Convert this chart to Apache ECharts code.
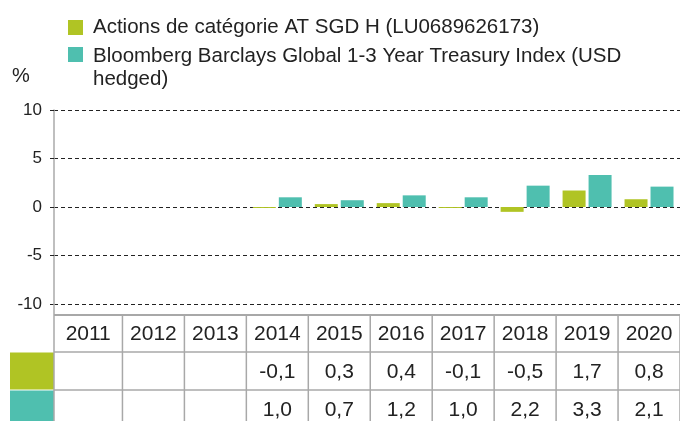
<!DOCTYPE html>
<html>
<head>
<meta charset="utf-8">
<script src="https://cdn.jsdelivr.net/npm/echarts@6/dist/echarts.min.js"></script>
<style>
html,body{margin:0;padding:0;background:#fff;}
#chart{width:680px;height:421px;}
</style>
</head>
<body>
<div id="chart"></div>
<script>
const years = ['2011','2012','2013','2014','2015','2016','2017','2018','2019','2020'];
const fundName = 'Actions de catégorie AT SGD H (LU0689626173)';
const indexName = 'Bloomberg Barclays Global 1-3 Year Treasury Index (USD hedged)';
const fundValues = [null, null, null, -0.1, 0.3, 0.4, -0.1, -0.5, 1.7, 0.8];
const indexValues = [null, null, null, 1.0, 0.7, 1.2, 1.0, 2.2, 3.3, 2.1];
const yMin = -10, yMax = 10, yStep = 5;
const unitLabel = '%';

const GREEN = '#B0C424';
const TEAL = '#4FBFAF';
const FONT = 'Liberation Sans';
const TXT = '#222';
const BORDER = '#a8a8a8';
const TABLE_ROWS_VISIBLE = 107 / 38;

function fmt(v) {
  return (v === null || v === undefined) ? '' : v.toFixed(1).replace('.', ',');
}

const chart = echarts.init(document.getElementById('chart'), null, {renderer: 'canvas'});

const option = {
  animation: false,
  backgroundColor: '#fff',
  textStyle: {fontFamily: FONT},
  legend: [
    {
      data: [fundName],
      left: 68, top: 16, padding: 0,
      icon: 'rect', itemWidth: 15, itemHeight: 15,
      selectedMode: false,
      textStyle: {fontFamily: FONT, fontSize: 20.5, color: TXT, lineHeight: 23, padding: [0, 0, 0, 5]}
    },
    {
      data: [indexName],
      left: 68, top: 45, padding: 0,
      icon: 'path://M0,0L15,0M0,2L15,2L15,17L0,17ZM0,46L15,46',
      itemWidth: 15, itemHeight: 46,
      selectedMode: false,
      formatter: function (n) { return n.replace('(USD ', '(USD\n'); },
      textStyle: {fontFamily: FONT, fontSize: 20.5, color: TXT, lineHeight: 23, padding: [0, 0, 0, 5]}
    }
  ],
  grid: [
    {left: 54, width: 629, top: 110, height: 194, containLabel: false},
    {left: 60.5, width: 622.5, top: 110, height: 194, containLabel: false},
    {left: 60.5, width: 622.5, top: 314, height: 107, containLabel: false}
  ],
  xAxis: [
    {type: 'category', gridIndex: 0, data: years, show: false},
    {type: 'category', gridIndex: 1, data: years, show: false},
    {type: 'category', gridIndex: 2, data: years, show: false}
  ],
  yAxis: [
    {
      type: 'value', gridIndex: 0, min: yMin, max: yMax, interval: yStep,
      name: unitLabel, nameLocation: 'end', nameGap: 24,
      nameTextStyle: {fontFamily: FONT, fontSize: 20, color: TXT, padding: [0, 66, 0, 0]},
      axisLine: {show: true, lineStyle: {color: '#aaa', width: 1.5}},
      axisTick: {show: true, length: 4, lineStyle: {color: TXT, width: 1}},
      axisLabel: {fontFamily: FONT, fontSize: 17, color: TXT, margin: 12},
      splitLine: {show: true, lineStyle: {color: TXT, width: 1, type: [4, 3]}}
    },
    {type: 'value', gridIndex: 1, min: yMin, max: yMax, interval: yStep, show: false, splitLine: {show: false}},
    {type: 'value', gridIndex: 2, min: 0, max: TABLE_ROWS_VISIBLE, inverse: true, show: false, splitLine: {show: false}}
  ],
  series: [
    {
      name: fundName, type: 'bar', xAxisIndex: 1, yAxisIndex: 1,
      data: fundValues, barWidth: 23, barGap: '13%',
      itemStyle: {color: GREEN}
    },
    {
      name: indexName, type: 'bar', xAxisIndex: 1, yAxisIndex: 1,
      data: indexValues, barWidth: 23, barGap: '13%',
      itemStyle: {color: TEAL}
    },
    {
      type: 'custom', xAxisIndex: 2, yAxisIndex: 2,
      data: years.map(function (y, i) { return [i]; }),
      silent: true,
      clip: false,
      renderItem: function (params, api) {
        const col = api.value(0);
        const cs = params.coordSys;
        const bw = api.size([1, 0])[0];
        const p0 = api.coord([col, 0]);
        const p1 = api.coord([col, 1]);
        const p2 = api.coord([col, 2]);
        const p3 = api.coord([col, 3]);
        const rowY = [p0[1], p1[1], p2[1], p3[1]];
        const cx = p0[0];
        const left = col === 0 ? cs.x - 6.5 : cx - bw / 2;
        const right = cx + bw / 2;
        const mid = (left + right) / 2;
        const texts = [years[col], fmt(fundValues[col]), fmt(indexValues[col])];
        const children = [];
        if (col === 0) {
          const swL = cs.x - 50.5;
          children.push({type: 'rect', shape: {x: swL, y: rowY[1] + 0.5, width: left - swL, height: rowY[2] - rowY[1] - 1}, style: {fill: GREEN}});
          children.push({type: 'rect', shape: {x: swL, y: rowY[2] + 0.5, width: left - swL, height: rowY[3] - rowY[2]}, style: {fill: TEAL}});
          children.push({type: 'line', shape: {x1: left, y1: rowY[0] - 10, x2: left, y2: rowY[3]}, style: {stroke: BORDER, lineWidth: 1.5}});
        }
        children.push({type: 'line', shape: {x1: right, y1: rowY[0], x2: right, y2: rowY[3]}, style: {stroke: BORDER, lineWidth: 1.5}});
        children.push({type: 'line', shape: {x1: left, y1: rowY[0] + 1, x2: right, y2: rowY[0] + 1}, style: {stroke: BORDER, lineWidth: 2}});
        children.push({type: 'line', shape: {x1: left, y1: rowY[1], x2: right, y2: rowY[1]}, style: {stroke: BORDER, lineWidth: 1.5}});
        children.push({type: 'line', shape: {x1: left, y1: rowY[2], x2: right, y2: rowY[2]}, style: {stroke: BORDER, lineWidth: 1.5}});
        for (let r = 0; r < 3; r++) {
          children.push({
            type: 'text',
            style: {
              x: mid, y: (rowY[r] + rowY[r + 1]) / 2 + 1,
              text: texts[r], align: 'center', verticalAlign: 'middle',
              font: '21px "' + FONT + '"', fill: TXT
            }
          });
        }
        return {type: 'group', children: children};
      }
    }
  ]
};
chart.setOption(option);
</script>
</body>
</html>
